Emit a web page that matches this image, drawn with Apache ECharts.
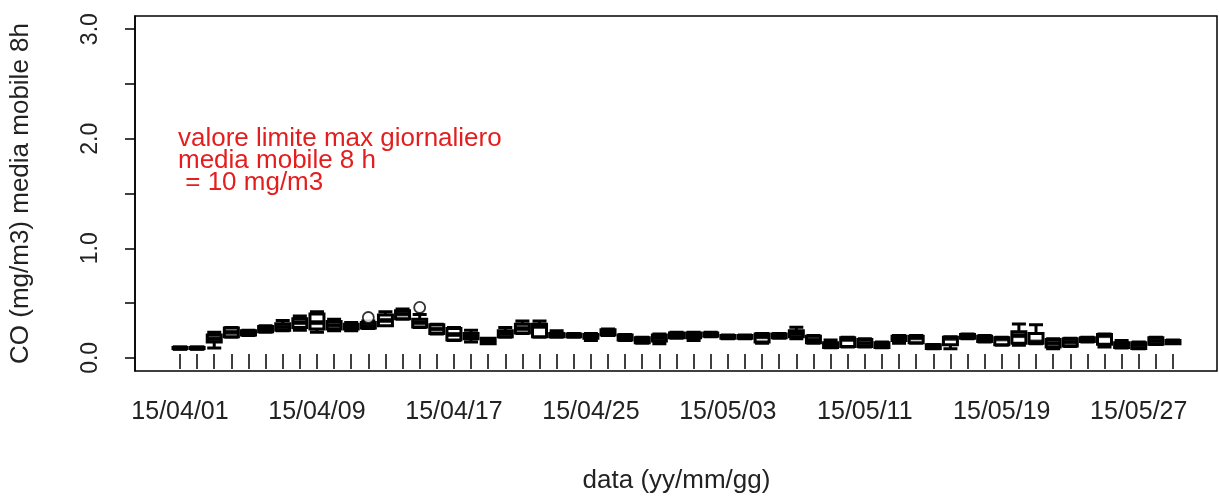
<!DOCTYPE html>
<html>
<head>
<meta charset="utf-8">
<script src="https://cdn.jsdelivr.net/npm/echarts@6/dist/echarts.min.js"></script>
<style>
html,body{margin:0;padding:0;background:#fff;}
#chart{width:1219px;height:499px;}
</style>
</head>
<body>
<div id="chart"></div>
<script>
// ---- data ----
const categories = [
  "15/04/01","15/04/02","15/04/03","15/04/04","15/04/05","15/04/06","15/04/07","15/04/08",
  "15/04/09","15/04/10","15/04/11","15/04/12","15/04/13","15/04/14","15/04/15","15/04/16",
  "15/04/17","15/04/18","15/04/19","15/04/20","15/04/21","15/04/22","15/04/23","15/04/24",
  "15/04/25","15/04/26","15/04/27","15/04/28","15/04/29","15/04/30","15/05/01","15/05/02",
  "15/05/03","15/05/04","15/05/05","15/05/06","15/05/07","15/05/08","15/05/09","15/05/10",
  "15/05/11","15/05/12","15/05/13","15/05/14","15/05/15","15/05/16","15/05/17","15/05/18",
  "15/05/19","15/05/20","15/05/21","15/05/22","15/05/23","15/05/24","15/05/25","15/05/26",
  "15/05/27","15/05/28","15/05/29"
];
const lowWhisker = [
  0.045,0.045,0.055,0.155,0.170,0.200,0.215,0.220,0.200,0.215,0.215,0.235,0.260,0.320,0.245,0.185,
  0.125,0.110,0.094,0.155,0.190,0.155,0.155,0.155,0.125,0.170,0.125,0.100,0.094,0.146,0.125,0.160,
  0.140,0.140,0.100,0.146,0.140,0.100,0.057,0.064,0.064,0.057,0.100,0.100,0.048,0.048,0.140,0.110,
  0.080,0.080,0.094,0.048,0.070,0.110,0.064,0.055,0.048,0.088,0.094
];
const q1 = [
  0.050,0.050,0.110,0.160,0.175,0.205,0.220,0.245,0.230,0.230,0.230,0.240,0.260,0.325,0.250,0.190,
  0.130,0.140,0.095,0.160,0.195,0.160,0.160,0.160,0.145,0.175,0.130,0.105,0.120,0.150,0.150,0.165,
  0.145,0.145,0.110,0.150,0.160,0.105,0.060,0.070,0.070,0.060,0.125,0.105,0.050,0.085,0.145,0.115,
  0.085,0.100,0.100,0.065,0.075,0.115,0.090,0.060,0.050,0.090,0.095
];
const median = [
  0.055,0.055,0.140,0.200,0.195,0.230,0.250,0.290,0.290,0.265,0.250,0.260,0.310,0.370,0.290,0.230,
  0.180,0.165,0.120,0.190,0.235,0.255,0.175,0.170,0.165,0.200,0.150,0.130,0.150,0.170,0.170,0.180,
  0.160,0.160,0.160,0.170,0.190,0.130,0.085,0.135,0.100,0.080,0.150,0.150,0.070,0.145,0.160,0.140,
  0.140,0.170,0.110,0.100,0.110,0.130,0.170,0.080,0.080,0.120,0.110
];
const q3 = [
  0.060,0.060,0.175,0.240,0.215,0.255,0.280,0.325,0.370,0.300,0.275,0.290,0.360,0.400,0.320,0.270,
  0.235,0.190,0.145,0.215,0.275,0.275,0.190,0.185,0.180,0.225,0.175,0.150,0.175,0.195,0.195,0.195,
  0.170,0.170,0.185,0.185,0.215,0.165,0.105,0.150,0.135,0.105,0.165,0.165,0.085,0.155,0.180,0.165,
  0.150,0.205,0.190,0.135,0.140,0.150,0.180,0.105,0.105,0.150,0.125
];
const highWhisker = [
  0.065,0.065,0.200,0.245,0.220,0.260,0.310,0.350,0.390,0.320,0.290,0.305,0.390,0.415,0.365,0.275,
  0.245,0.220,0.146,0.245,0.305,0.305,0.215,0.190,0.190,0.230,0.180,0.155,0.185,0.200,0.200,0.200,
  0.176,0.176,0.190,0.190,0.246,0.170,0.130,0.155,0.140,0.110,0.170,0.170,0.088,0.160,0.185,0.170,
  0.155,0.276,0.270,0.140,0.146,0.155,0.185,0.125,0.110,0.155,0.130
];
const outlierDates = ["15/04/12","15/04/15"];
const outlierValues = [0.337, 0.430];

const yTicks = [0, 0.5, 1, 1.5, 2, 2.5, 3];
const yLabels = [0, 1, 2, 3];
const annotationLines = ["valore limite max giornaliero", "media mobile 8 h", " = 10 mg/m3"];

// ---- chart ----
const FONT = "'Liberation Sans', Arial, sans-serif";
const boxData = categories.map((c, i) => [lowWhisker[i], q1[i], median[i], q3[i], highWhisker[i]]);
const medianData = categories.map((c, i) => [c, median[i]]);
const outlierData = outlierDates.map((d, i) => [d, outlierValues[i]]);

const chart = echarts.init(document.getElementById('chart'), null, {renderer: 'canvas'});
chart.setOption({
  animation: false,
  backgroundColor: '#fff',
  textStyle: {fontFamily: FONT},
  grid: [
    {left: 130, top: 16, width: 1087, height: 355, show: true, borderColor: '#000', borderWidth: 1.5, backgroundColor: 'transparent'},
    {left: 171.44, top: 16, width: 1010.1, height: 355, show: false}
  ],
  xAxis: [
    {gridIndex: 0, type: 'value', min: 0, max: 1, show: false},
    {
      gridIndex: 1, type: 'category', data: categories, offset: 2,
      axisLine: {show: false},
      axisTick: {show: true, interval: 0, alignWithLabel: true, length: 15, lineStyle: {color: '#000', width: 1.5}},
      axisLabel: {interval: 7, fontSize: 25, margin: 31, color: '#222', fontFamily: FONT},
      splitLine: {show: false},
      name: 'data (yy/mm/gg)', nameLocation: 'middle', nameGap: 99,
      nameTextStyle: {fontSize: 26, color: '#222', fontFamily: FONT}
    }
  ],
  yAxis: [
    {
      gridIndex: 0, type: 'value', min: -0.12, max: 3.12,
      axisLine: {show: true, lineStyle: {color: '#000', width: 1.5}},
      axisTick: {show: true, customValues: yTicks, length: 10, lineStyle: {color: '#000', width: 1.5}},
      axisLabel: {customValues: yLabels, formatter: v => Number(v).toFixed(1), rotate: 90, margin: 33, fontSize: 23, color: '#222', fontFamily: FONT},
      splitLine: {show: false},
      name: 'CO (mg/m3) media mobile 8h', nameLocation: 'middle', nameGap: 101,
      nameTextStyle: {fontSize: 26, color: '#222', fontFamily: FONT}
    },
    {gridIndex: 1, type: 'value', min: -0.12, max: 3.12, show: false}
  ],
  series: [
    {
      type: 'boxplot', xAxisIndex: 1, yAxisIndex: 1,
      data: boxData, boxWidth: [14, 14],
      itemStyle: {color: '#fff', borderColor: '#000', borderWidth: 3},
      emphasis: {disabled: true}, silent: true
    },
    {
      type: 'scatter', xAxisIndex: 1, yAxisIndex: 1,
      data: medianData, symbol: 'rect', symbolSize: [15, 5],
      itemStyle: {color: '#000'}, silent: true
    },
    {
      type: 'scatter', xAxisIndex: 1, yAxisIndex: 1,
      data: outlierData, symbol: 'circle', symbolSize: 11,
      itemStyle: {color: '#fff', borderColor: '#000', borderWidth: 1.8},
      silent: true
    }
  ],
  graphic: [{
    type: 'text', left: 178, top: 126,
    style: {text: annotationLines.join('\n'), font: '26px ' + FONT, fill: '#e41e1e', lineHeight: 22}
  }]
});
</script>
</body>
</html>
